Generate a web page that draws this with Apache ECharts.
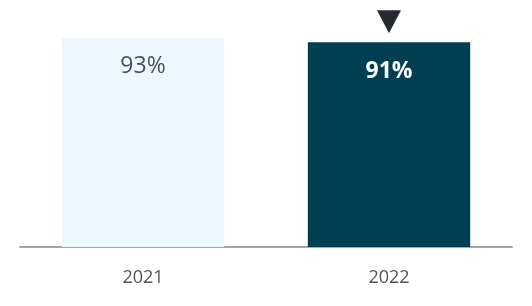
<!DOCTYPE html>
<html>
<head>
<meta charset="utf-8">
<script src="https://cdn.jsdelivr.net/npm/echarts@6/dist/echarts.min.js"></script>
<style>html,body{margin:0;padding:0;background:#fff}#c{width:532px;height:306px}</style>
</head>
<body>
<div id="c"></div>
<script>
var categories = ['2021', '2022'];
var values = [93, 91];
var labels = ['93%', '91%'];
var markedCategory = '2022';
var markedValue = 91;

var chart = echarts.init(document.getElementById('c'), null, {renderer: 'canvas'});
chart.setOption({
  animation: false,
  grid: {left: 20, right: 20, top: 22, bottom: 59},
  xAxis: {
    type: 'category',
    data: categories,
    axisLine: {lineStyle: {color: '#a6a6a6', width: 2}},
    axisTick: {show: false},
    axisLabel: {color: '#50555b', fontSize: 18, fontFamily: 'Open Sans', margin: 22}
  },
  yAxis: {type: 'value', min: 0, max: 100, show: false, splitLine: {show: false}},
  series: [{
    type: 'bar',
    barCategoryGap: '34%',
    data: values.map(function (v, i) {
      return {
        value: v,
        itemStyle: {color: i === 0 ? '#ebf9ff' : '#003f52'},
        label: {
          show: true,
          position: ['50%', 29],
          align: 'center',
          verticalAlign: 'middle',
          formatter: labels[i],
          fontSize: 23,
          fontFamily: 'Open Sans',
          fontWeight: i === 0 ? 'normal' : 'bold',
          color: i === 0 ? '#4a4f55' : '#ffffff'
        }
      };
    }),
    markPoint: {
      symbol: 'path://M0,0L24,0L12,23Z',
      symbolSize: [24, 23],
      symbolOffset: [0, -20.5],
      itemStyle: {color: '#262a30'},
      label: {show: false},
      data: [{coord: [markedCategory, markedValue]}]
    }
  }]
});
</script>
</body>
</html>
